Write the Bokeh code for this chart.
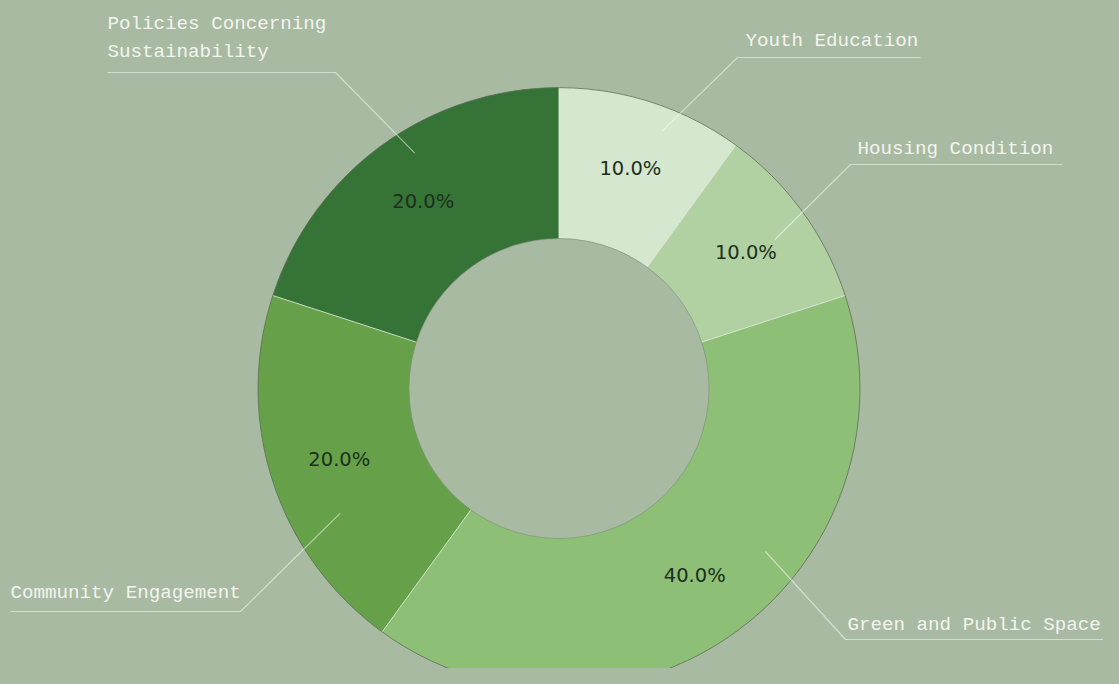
import math
from bokeh.plotting import figure
from bokeh.models import Range1d, ColumnDataSource
from bokeh.core.properties import value
from bokeh.embed import file_html
from bokeh.resources import INLINE

# ---- data ----
categories = ["Youth Education", "Housing Condition", "Green and Public Space",
              "Community Engagement", "Policies Concerning\nSustainability"]
shares = [10, 10, 40, 20, 20]
colors = ["#d6e7d0", "#b1d1a2", "#8ebf77", "#66a14a", "#357436"]

BG = "#a8bba2"
W, H = 1103, 668
# data coords: x = picture x, y = 684 - picture y
def sy(Y):
    return 684 - Y

cx, cy = 558.5, sy(388)
R_OUT, R_IN = 301, 150
R_PCT = 231

p = figure(width=W, height=H, x_range=Range1d(0, W), y_range=Range1d(684 - H, 684),
           output_backend="svg", toolbar_location=None, min_border=0)
p.axis.visible = False
p.grid.visible = False
p.outline_line_color = None
p.background_fill_color = BG
p.border_fill_color = BG

total = sum(shares)
starts, ends, mids = [], [], []
cum = 0
for s in shares:
    a0 = 90 - cum / total * 360
    cum += s
    a1 = 90 - cum / total * 360
    starts.append(math.radians(a0))
    ends.append(math.radians(a1))
    mids.append(math.radians((a0 + a1) / 2))

src = ColumnDataSource(dict(start=starts, end=ends, color=colors))
p.annular_wedge(x=cx, y=cy, inner_radius=R_IN, outer_radius=R_OUT, start_angle="start",
                end_angle="end", direction="clock", fill_color="color", line_color=None, source=src)

# radial separators
p.segment(x0=[cx + R_IN * math.cos(a) for a in starts], y0=[cy + R_IN * math.sin(a) for a in starts],
          x1=[cx + R_OUT * math.cos(a) for a in starts], y1=[cy + R_OUT * math.sin(a) for a in starts],
          line_color="#e4eee0", line_width=1, line_alpha=0.8)
# outer / inner outlines
p.circle(x=[cx], y=[cy], radius=R_OUT, fill_color=None, line_color="#5e6e58", line_width=0.8)
p.circle(x=[cx], y=[cy], radius=R_IN, fill_color=None, line_color="#7d8c77", line_width=0.6)

# percent labels
pct = [f"{s / total * 100:.1f}%" for s in shares]
p.text(x=[cx + R_PCT * math.cos(a) for a in mids], y=[cy + R_PCT * math.sin(a) for a in mids],
       text=pct, text_align="center", text_baseline="middle", text_font=value("DejaVu Sans"),
       text_font_size="19.5px", text_color="#1c301c")

# ---- label layout (anchor angle/radius, elbow, underline end, text pos) ----
layout = [
    dict(ang=68.2, r=277, ex=737, ey=57, ux=920, tx=745, ty=[40]),
    dict(ang=34.6, r=262, ex=850, ey=164, ux=1062, tx=857, ty=[148]),
    dict(ang=-38.3, r=263, ex=845, ey=639, ux=1103, tx=847, ty=[624]),
    dict(ang=209.7, r=252, ex=240, ey=611, ux=10, tx=10, ty=[592]),
    dict(ang=121.5, r=276, ex=335, ey=72, ux=107, tx=107, ty=[23, 51]),
]

lx, ly, tx, ty, tt = [], [], [], [], []
for cat, L in zip(categories, layout):
    a = math.radians(L["ang"])
    ax, ay = cx + L["r"] * math.cos(a), cy + L["r"] * math.sin(a)
    lx.append([ax, L["ex"], L["ux"]])
    ly.append([ay, sy(L["ey"]), sy(L["ey"])])
    for line, yy in zip(cat.split("\n"), L["ty"]):
        tx.append(L["tx"])
        ty.append(sy(yy))
        tt.append(line)

p.multi_line(xs=lx, ys=ly, line_color="#ffffff", line_alpha=0.5, line_width=1.2)
p.text(x=tx, y=ty, text=tt, text_align="left", text_baseline="middle",
       text_font=value("Liberation Mono"), text_font_size="19.2px", text_color="#f3f4ee")

html = file_html(p, INLINE)
html = html.replace("</head>", f"<style>html, body {{ background: {BG}; }}</style></head>", 1)
open("out.html", "w").write(html)
